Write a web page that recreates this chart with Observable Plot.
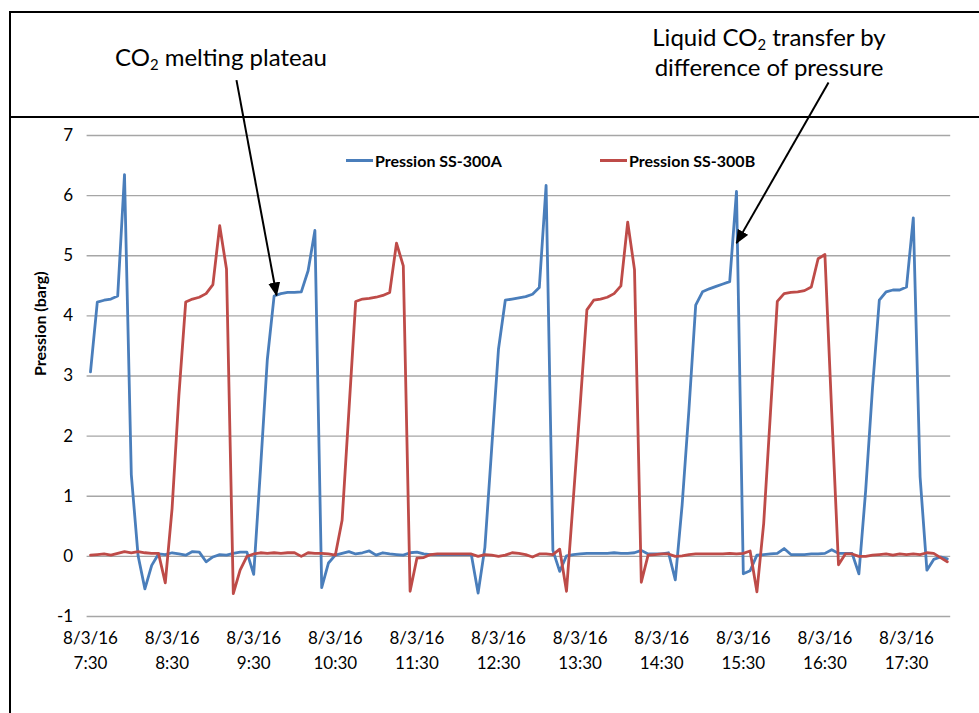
<!DOCTYPE html>
<html>
<head>
<meta charset="utf-8">
<script src="https://cdn.jsdelivr.net/npm/d3@7"></script>
<script src="https://cdn.jsdelivr.net/npm/@observablehq/plot@0.6"></script>
<style>
  html, body { margin: 0; padding: 0; background: #fff; }
  #wrap { position: relative; width: 979px; height: 713px; overflow: hidden; font-family: Lato, "Open Sans", sans-serif; color: #000; }
  .hline { position: absolute; left: 9px; width: 975px; height: 2px; background: #000; }
  .vline { position: absolute; left: 9px; top: 11px; width: 2px; height: 710px; background: #000; }
  .note { position: absolute; font-family: Lato, sans-serif; font-size: 24px; line-height: 30px; text-align: center; white-space: nowrap; }
  .note sub { font-size: 0.62em; vertical-align: -0.3em; line-height: 0; }
  .legend { position: absolute; top: 150px; height: 20px; display: flex; align-items: center; font-family: Lato, sans-serif; font-weight: bold; font-size: 16px; white-space: nowrap; }
  .legend .sw { width: 27px; height: 3px; margin-right: 2px; }
</style>
</head>
<body>
<div id="wrap"></div>
<script>
// ---- data ----
const startTime = Date.UTC(2016, 7, 3, 7, 30);   // first sample 8/3/16 7:30
const stepMinutes = 5;                           // one sample every 5 minutes

const pressionA = [
  3.07, 4.23, 4.26, 4.28, 4.33, 6.35, 1.36, 0.01, -0.54, -0.15,
  0.04, 0.03, 0.06, 0.04, 0.02, 0.08, 0.07, -0.09, -0.01, 0.03,
  0.02, 0.05, 0.07, 0.07, -0.30, 1.45, 3.27, 4.33, 4.37, 4.39,
  4.39, 4.40, 4.75, 5.42, -0.52, -0.11, 0.02, 0.05, 0.08, 0.04,
  0.06, 0.09, 0.02, 0.06, 0.04, 0.03, 0.02, 0.06, 0.07, 0.04,
  0.03, 0.03, 0.03, 0.03, 0.03, 0.03, 0.03, -0.61, 0.15, 1.80,
  3.45, 4.26, 4.28, 4.30, 4.32, 4.36, 4.47, 6.17, 0.10, -0.25,
  0.01, 0.03, 0.04, 0.05, 0.05, 0.05, 0.05, 0.06, 0.05, 0.05,
  0.06, 0.10, 0.04, 0.04, 0.04, 0.06, -0.39, 0.85, 2.43, 4.18,
  4.40, 4.45, 4.49, 4.53, 4.57, 6.07, -0.29, -0.24, 0.02, 0.03,
  0.04, 0.05, 0.13, 0.03, 0.03, 0.03, 0.04, 0.04, 0.05, 0.11,
  0.05, 0.05, 0.05, -0.29, 1.10, 2.80, 4.26, 4.40, 4.43, 4.43,
  4.48, 5.63, 1.32, -0.23, -0.05, -0.01, -0.04
];

const pressionB = [
  0.02, 0.03, 0.04, 0.02, 0.05, 0.08, 0.06, 0.08, 0.06, 0.05,
  0.05, -0.44, 0.80, 2.68, 4.23, 4.28, 4.31, 4.37, 4.52, 5.50,
  4.78, -0.62, -0.23, 0.00, 0.04, 0.06, 0.05, 0.06, 0.05, 0.06,
  0.06, 0.00, 0.06, 0.05, 0.05, 0.04, 0.02, 0.60, 2.42, 4.24,
  4.28, 4.29, 4.31, 4.34, 4.39, 5.21, 4.83, -0.58, -0.03, -0.02,
  0.03, 0.04, 0.04, 0.04, 0.04, 0.04, 0.04, 0.00, 0.03, 0.02,
  0.00, 0.02, 0.06, 0.05, 0.03, -0.01, 0.04, 0.04, 0.03, 0.12,
  -0.58, 0.95, 2.50, 4.10, 4.26, 4.28, 4.31, 4.37, 4.50, 5.56,
  4.77, -0.43, 0.02, 0.03, 0.04, 0.04, 0.00, 0.01, 0.03, 0.04,
  0.04, 0.04, 0.04, 0.04, 0.05, 0.04, 0.05, 0.09, -0.59, 0.55,
  2.40, 4.24, 4.37, 4.39, 4.40, 4.42, 4.48, 4.95, 5.02, 2.40,
  -0.14, 0.04, 0.04, 0.00, 0.00, 0.02, 0.03, 0.04, 0.02, 0.04,
  0.03, 0.04, 0.03, 0.06, 0.05, -0.02, -0.09
];

const seriesNames = ["Pression SS-300A", "Pression SS-300B"];
const seriesColors = ["#4a7ebb", "#be4b48"];

const yTicks = [-1, 0, 1, 2, 3, 4, 5, 6, 7];
const xTickDate = "8/3/16";
const xTickTimes = ["7:30", "8:30", "9:30", "10:30", "11:30", "12:30", "13:30", "14:30", "15:30", "16:30", "17:30"];
const yLabel = "Pression (barg)";

// annotation arrows: tail (below text) -> tip (on the curve)
const arrowTails = [["09:17:20", 7.92], ["16:32:40", 7.88]];
const arrowTips  = [["09:46:50", 4.34], ["15:25:00", 5.21]];

// ---- build tables ----
const toTime = i => new Date(startTime + i * stepMinutes * 60000);
const hm = s => { const [h, m, sec] = s.split(":").map(Number); return new Date(Date.UTC(2016, 7, 3, h, m, sec || 0)); };
const rowsA = pressionA.map((v, i) => ({time: toTime(i), value: v}));
const rowsB = pressionB.map((v, i) => ({time: toTime(i), value: v}));
const xTicks = xTickTimes.map(hm);
const arrows = arrowTails.map((t, k) => ({x1: hm(t[0]), y1: t[1], x2: hm(arrowTips[k][0]), y2: arrowTips[k][1]}));

const halfStep = stepMinutes * 60000 / 2;
const chart = Plot.plot({
  width: 979,
  height: 713,
  marginTop: 135,
  marginBottom: 97,
  marginLeft: 86.6,
  marginRight: 28.8,
  style: {background: "transparent", fontFamily: "Lato, sans-serif", color: "#000"},
  x: {type: "utc", domain: [new Date(startTime - halfStep), new Date(startTime + (pressionA.length - 1) * stepMinutes * 60000 + halfStep)]},
  y: {domain: [-1, 7]},
  marks: [
    Plot.gridY(yTicks, {stroke: "#a6a6a6", strokeOpacity: 1, strokeWidth: 1.3}),
    Plot.axisY(yTicks, {tickSize: 0, tickPadding: 14, fontSize: 17, label: null, tickFormat: d => `${d}`}),
    Plot.axisX(xTicks, {tickSize: 0, tickPadding: 10, fontSize: 17, lineHeight: 1.45, label: null,
      tickFormat: d => `${xTickDate}\n${d3.utcFormat("%-H:%M")(d)}`}),
    Plot.text([yLabel], {frameAnchor: "left", dx: -46, rotate: -90, fontSize: 16, fontWeight: "bold", fill: "#000"}),
    Plot.lineY(rowsA, {x: "time", y: "value", stroke: seriesColors[0], strokeWidth: 2.8, strokeLinejoin: "round"}),
    Plot.lineY(rowsB, {x: "time", y: "value", stroke: seriesColors[1], strokeWidth: 2.8, strokeLinejoin: "round"}),
    Plot.link(arrows, {x1: "x1", y1: "y1", x2: "x2", y2: "y2", stroke: "#000", strokeWidth: 2})
  ]
});

// filled arrowheads on the annotation links
const ns = "http://www.w3.org/2000/svg";
const defs = document.createElementNS(ns, "defs");
const marker = document.createElementNS(ns, "marker");
marker.setAttribute("id", "arrowHead");
marker.setAttribute("viewBox", "0 0 14 12");
marker.setAttribute("refX", "13");
marker.setAttribute("refY", "6");
marker.setAttribute("markerWidth", "14");
marker.setAttribute("markerHeight", "12");
marker.setAttribute("markerUnits", "userSpaceOnUse");
marker.setAttribute("orient", "auto");
const head = document.createElementNS(ns, "path");
head.setAttribute("d", "M0,0L14,6L0,12Z");
head.setAttribute("fill", "#000");
marker.appendChild(head);
defs.appendChild(marker);
chart.insertBefore(defs, chart.firstChild);
chart.querySelectorAll('g[aria-label="link"] path, g[aria-label="link"] line').forEach(p => p.setAttribute("marker-end", "url(#arrowHead)"));

// ---- page assembly ----
const wrap = document.getElementById("wrap");
wrap.innerHTML = `
  <div class="hline" style="top:11px"></div>
  <div class="hline" style="top:116px"></div>
  <div class="vline"></div>`;
chart.style.position = "absolute";
chart.style.left = "0";
chart.style.top = "0";
wrap.appendChild(chart);

const note1 = document.createElement("div");
note1.className = "note";
note1.style.cssText = "left:71px; top:42px; width:300px;";
note1.innerHTML = "CO<sub>2</sub> melting plateau";
wrap.appendChild(note1);

const note2 = document.createElement("div");
note2.className = "note";
note2.style.cssText = "left:619px; top:22px; width:300px;";
note2.innerHTML = "Liquid CO<sub>2</sub> transfer by<br>difference of pressure";
wrap.appendChild(note2);

const legendX = [346, 600];
seriesNames.forEach((name, k) => {
  const item = document.createElement("div");
  item.className = "legend";
  item.style.left = legendX[k] + "px";
  item.innerHTML = `<span class="sw" style="background:${seriesColors[k]}"></span><span>${name}</span>`;
  wrap.appendChild(item);
});
</script>
</body>
</html>
